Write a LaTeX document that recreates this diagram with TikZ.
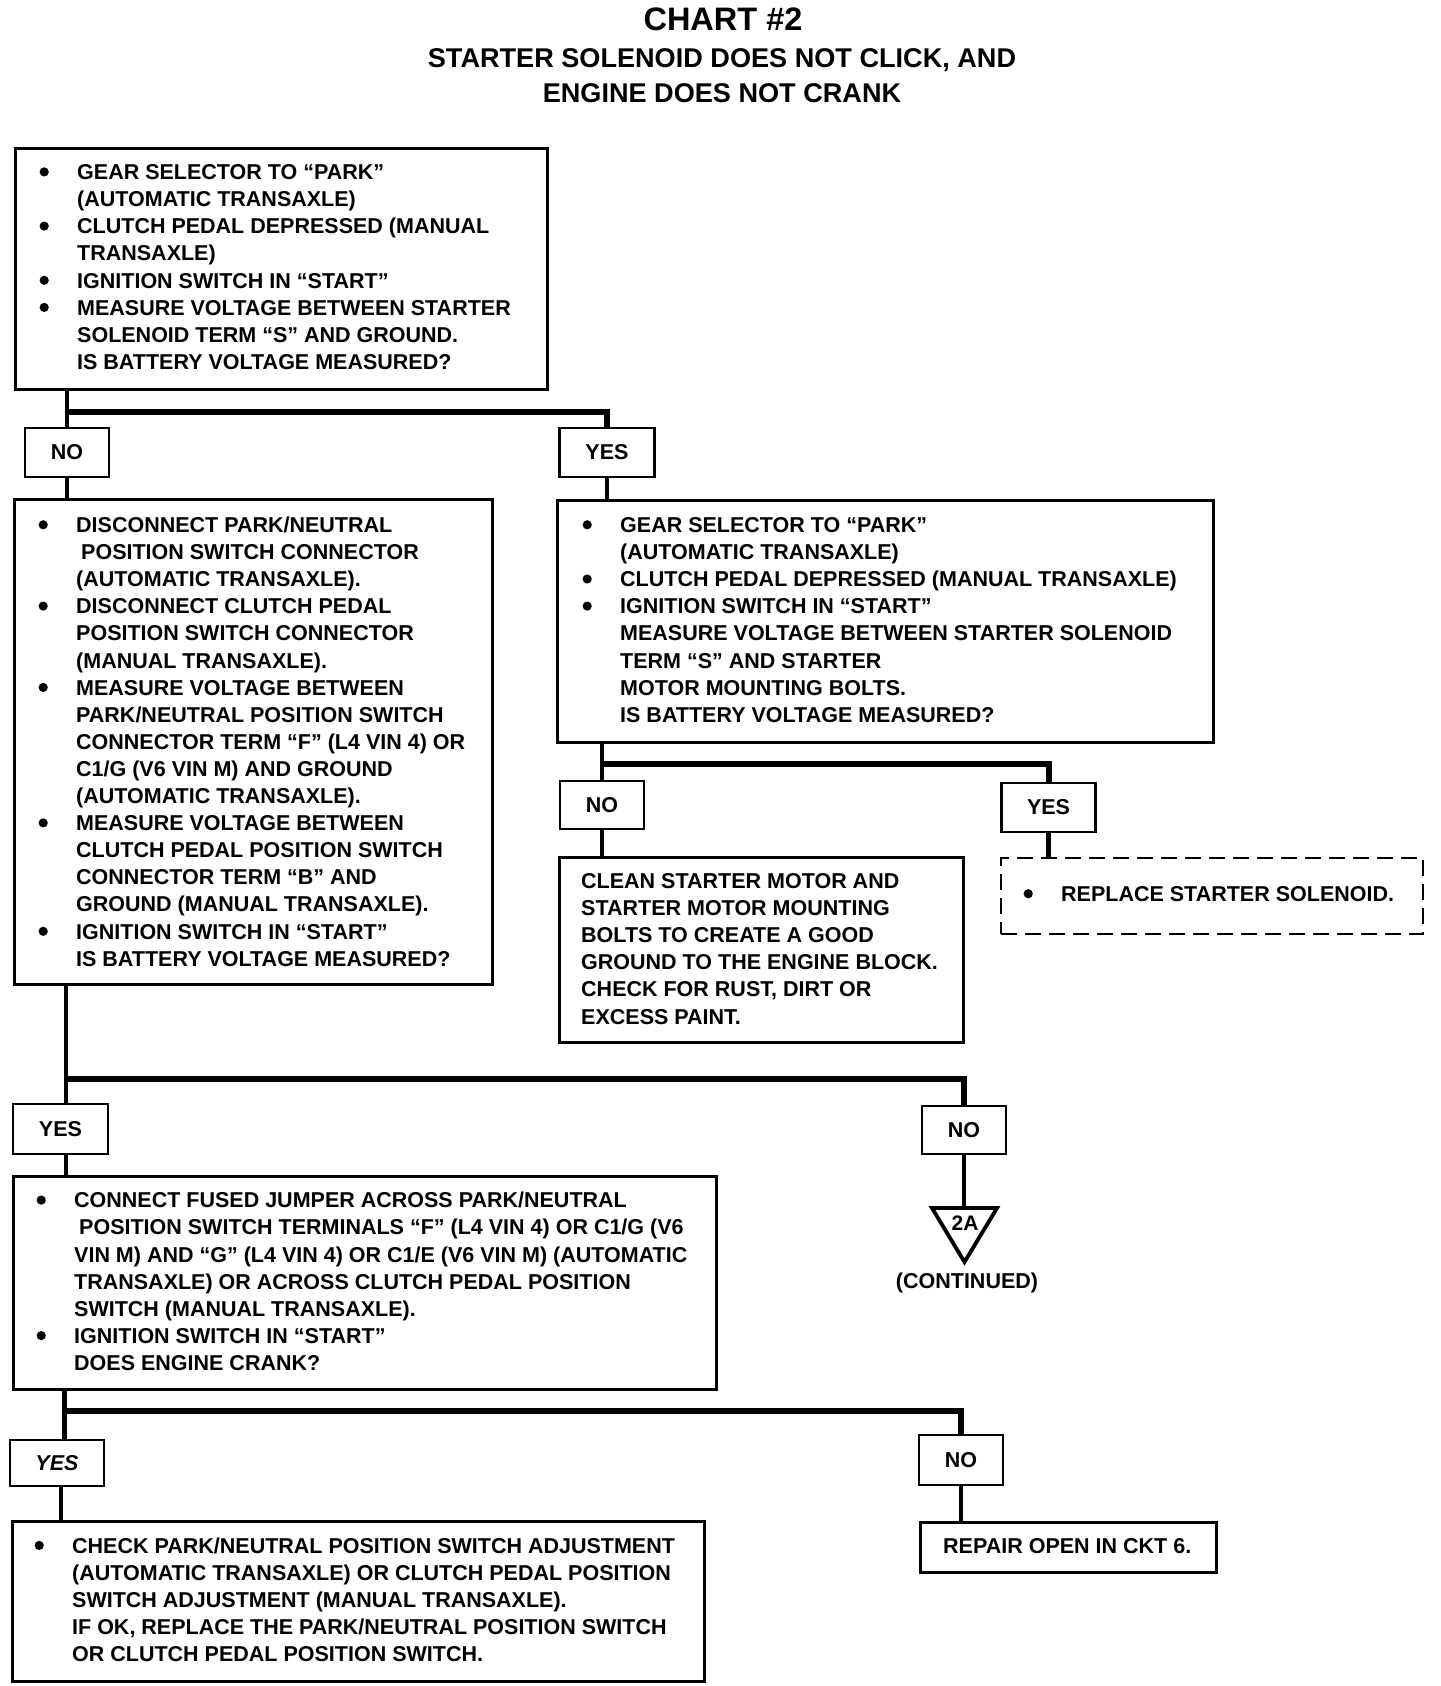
\documentclass[tikz,border=0pt]{standalone}
\usepackage{fontspec}
\setmainfont{Liberation Sans}
\usepackage{graphicx}
\newcommand{\bu}{\makebox[33pt][l]{\makebox[0pt][c]{\tikz[baseline=0pt]\fill (0pt,7.7pt) circle[radius=4.6pt];}}}
\newcommand{\nb}{\hspace*{33pt}}
\newcommand{\chartlines}[1]{\begin{tabular}[t]{@{}l@{}}#1\end{tabular}}
\tikzset{
  chartfont/.style={font=\fontsize{21.5pt}{27.1pt}\selectfont\bfseries},
  box/.style={draw, line width=2.6pt, rectangle, inner sep=0pt, anchor=north west},
  dbox/.style={box, dash pattern=on 16pt off 8pt, line width=2.4pt},
  lbl/.style={draw, line width=2.6pt, rectangle, inner sep=0pt, chartfont},
  txt/.style={inner sep=0pt, anchor=base west, chartfont},
  conn/.style={line width=4.6pt},
  bar/.style={line width=6pt, line join=miter},
}
\begin{document}
\begin{tikzpicture}[x=1pt,y=-1pt]
\useasboundingbox[fill=white] (0,0) rectangle (1440,1686);

% title
\node[anchor=base, inner sep=0pt, font=\fontsize{32.5pt}{39pt}\selectfont\bfseries] (title) at (723,31) {CHART \#2};
\node[anchor=base, inner sep=0pt, font=\fontsize{27.1pt}{33pt}\selectfont\bfseries] (sub1) at (722,67) {STARTER SOLENOID DOES NOT CLICK, AND};
\node[anchor=base, inner sep=0pt, font=\fontsize{27.1pt}{33pt}\selectfont\bfseries] (sub2) at (722,102) {ENGINE DOES NOT CRANK};

% box 1
\node[box, minimum width=532pt, minimum height=241pt] (b1) at (14,147) {};
\node[txt] (t1) at (44,179.6) {\chartlines{%
\bu GEAR SELECTOR TO “PARK”\\
\nb (AUTOMATIC TRANSAXLE)\\
\bu CLUTCH PEDAL DEPRESSED (MANUAL\\
\nb TRANSAXLE)\\
\bu IGNITION SWITCH IN “START”\\
\bu MEASURE VOLTAGE BETWEEN STARTER\\
\nb SOLENOID TERM “S” AND GROUND.\\
\nb IS BATTERY VOLTAGE MEASURED?}};

\node[lbl, minimum width=84pt, minimum height=49pt] (no1) at (67,452.5) {NO};
\node[lbl, minimum width=95pt, minimum height=49pt] (yes1) at (607,452.5) {YES};

% box 2
\node[box, minimum width=478pt, minimum height=485pt] (b2) at (13,498) {};
\node[txt] (t2) at (43,532.5) {\chartlines{%
\bu DISCONNECT PARK/NEUTRAL\\
\nb\hspace*{5pt}POSITION SWITCH CONNECTOR\\
\nb (AUTOMATIC TRANSAXLE).\\
\bu DISCONNECT CLUTCH PEDAL\\
\nb POSITION SWITCH CONNECTOR\\
\nb (MANUAL TRANSAXLE).\\
\bu MEASURE VOLTAGE BETWEEN\\
\nb PARK/NEUTRAL POSITION SWITCH\\
\nb CONNECTOR TERM “F” (L4 VIN 4) OR\\
\nb C1/G (V6 VIN M) AND GROUND\\
\nb (AUTOMATIC TRANSAXLE).\\
\bu MEASURE VOLTAGE BETWEEN\\
\nb CLUTCH PEDAL POSITION SWITCH\\
\nb CONNECTOR TERM “B” AND\\
\nb GROUND (MANUAL TRANSAXLE).\\
\bu IGNITION SWITCH IN “START”\\
\nb IS BATTERY VOLTAGE MEASURED?}};

% box 3
\node[box, minimum width=656pt, minimum height=242pt] (b3) at (556,499) {};
\node[txt] (t3) at (587,532.5) {\chartlines{%
\bu GEAR SELECTOR TO “PARK”\\
\nb (AUTOMATIC TRANSAXLE)\\
\bu CLUTCH PEDAL DEPRESSED (MANUAL TRANSAXLE)\\
\bu IGNITION SWITCH IN “START”\\
\nb MEASURE VOLTAGE BETWEEN STARTER SOLENOID\\
\nb TERM “S” AND STARTER\\
\nb MOTOR MOUNTING BOLTS.\\
\nb IS BATTERY VOLTAGE MEASURED?}};

\node[lbl, minimum width=84pt, minimum height=48pt] (no2) at (602,805) {NO};
\node[lbl, minimum width=94pt, minimum height=49pt] (yes2) at (1048.5,807.5) {YES};

% box 4
\node[box, minimum width=404pt, minimum height=185pt] (b4) at (558,856) {};
\node[txt] (t4) at (581,888.5) {\chartlines{%
CLEAN STARTER MOTOR AND\\
STARTER MOTOR MOUNTING\\
BOLTS TO CREATE A GOOD\\
GROUND TO THE ENGINE BLOCK.\\
CHECK FOR RUST, DIRT OR\\
EXCESS PAINT.}};

% dashed box
\node[dbox, minimum width=422pt, minimum height=76pt] (rep1) at (1000,857) {};
\node[txt] (t5) at (1028,901.4) {\chartlines{\bu REPLACE STARTER SOLENOID.}};

% lower section
\node[lbl, minimum width=95pt, minimum height=50pt] (yes3) at (60.5,1129) {YES};
\node[lbl, minimum width=84pt, minimum height=48pt] (no3) at (964,1130) {NO};

\coordinate (tritop) at (964,1208);
\draw[line width=3.8pt, line join=miter] (932,1208) -- (997,1208) -- (964.5,1262) -- cycle;
\node[inner sep=0pt, font=\fontsize{21pt}{25pt}\selectfont\bfseries] (twoa) at (965,1223) {2A};
\node[anchor=base, inner sep=0pt, chartfont] (cont) at (967,1288) {(CONTINUED)};

% box 5
\node[box, minimum width=703pt, minimum height=213pt] (b5) at (12,1175) {};
\node[txt] (t6) at (41,1207.8) {\chartlines{%
\bu CONNECT FUSED JUMPER ACROSS PARK/NEUTRAL\\
\nb\hspace*{5pt}POSITION SWITCH TERMINALS “F” (L4 VIN 4) OR C1/G (V6\\
\nb VIN M) AND “G” (L4 VIN 4) OR C1/E (V6 VIN M) (AUTOMATIC\\
\nb TRANSAXLE) OR ACROSS CLUTCH PEDAL POSITION\\
\nb SWITCH (MANUAL TRANSAXLE).\\
\bu IGNITION SWITCH IN “START”\\
\nb DOES ENGINE CRANK?}};

\node[lbl, minimum width=94pt, minimum height=46pt, font=\fontsize{21.5pt}{27.1pt}\selectfont\bfseries\itshape] (yes4) at (57,1463) {YES};
\node[lbl, minimum width=84pt, minimum height=50pt] (no4) at (961,1460) {NO};

% box 6
\node[box, minimum width=692pt, minimum height=160pt] (b6) at (11,1520) {};
\node[txt] (t7) at (39,1553.1) {\chartlines{%
\bu CHECK PARK/NEUTRAL POSITION SWITCH ADJUSTMENT\\
\nb (AUTOMATIC TRANSAXLE) OR CLUTCH PEDAL POSITION\\
\nb SWITCH ADJUSTMENT (MANUAL TRANSAXLE).\\
\nb IF OK, REPLACE THE PARK/NEUTRAL POSITION SWITCH\\
\nb OR CLUTCH PEDAL POSITION SWITCH.}};

% repair box
\node[box, minimum width=296pt, minimum height=50pt] (rep2) at (919,1521) {};
\node[txt] (t8) at (943,1553) {REPAIR OPEN IN CKT 6.};

% connectors
\coordinate (j1) at (67,412);
\draw[conn] (b1.south -| no1) -- (no1.north);
\draw[bar] (j1) -| (yes1.north);
\draw[conn] (no1.south) -- (b2.north -| no1);
\draw[conn] (yes1.south) -- (b3.north -| yes1);

\coordinate (j2) at (602,763.5);
\draw[conn] (b3.south -| no2) -- (no2.north);
\draw[bar] (j2) -| (yes2.north);
\draw[conn] (no2.south) -- (b4.north -| no2);
\draw[conn] (yes2.south) -- (rep1.north -| yes2);

\coordinate (j3) at (66,1079);
\draw[conn] (b2.south -| j3) -- (yes3.north -| j3);
\draw[bar] (j3) -| (no3.north);
\draw[conn] (yes3.south -| j3) -- (b5.north -| j3);
\draw[conn] (no3.south) -- (tritop);

\coordinate (j4) at (64.5,1411);
\coordinate (j5) at (61,1500);
\draw[conn] (b5.south -| j4) -- (yes4.north -| j4);
\draw[bar] (j4) -| (no4.north);
\draw[conn] (yes4.south -| j5) -- (b6.north -| j5);
\draw[conn] (no4.south) -- (rep2.north -| no4);
\end{tikzpicture}
\end{document}
